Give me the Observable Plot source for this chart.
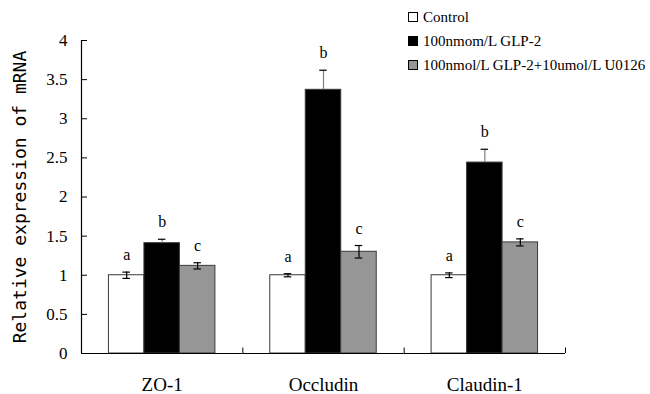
<!DOCTYPE html>
<html><head><meta charset="utf-8">
<script src="https://cdn.jsdelivr.net/npm/d3@7"></script>
<script src="https://cdn.jsdelivr.net/npm/@observablehq/plot@0.6"></script>
<style>
body{margin:0;background:#fff}
#wrap{position:relative;width:650px;height:394px;}
#legend{position:absolute;left:408px;top:5px;font-family:"Liberation Serif";font-size:15px;color:#000}
.item{display:flex;align-items:center;height:24px;white-space:nowrap}
.sw{width:10px;height:10px;border:1px solid #000;margin-right:5px;box-sizing:border-box}
#ytitle{position:absolute;left:19px;top:197px;transform:translate(-50%,-50%) rotate(-90deg);font-family:"DejaVu Sans Mono";font-size:18px;white-space:nowrap;color:#000}
</style></head><body><div id="wrap"></div>
<script>
const categories = ["ZO-1", "Occludin", "Claudin-1"];
const series = ["Control", "100nmom/L GLP-2", "100nmol/L GLP-2+10umol/L U0126"];
const controlValues = [1.00, 1.00, 1.00];
const glp2Values = [1.41, 3.37, 2.44];
const u0126Values = [1.12, 1.30, 1.42];
const controlErr = [0.04, 0.02, 0.03];
const glp2Err = [0.05, 0.25, 0.17];
const u0126Err = [0.04, 0.08, 0.045];
const controlSig = ["a", "a", "a"];
const glp2Sig = ["b", "b", "b"];
const u0126Sig = ["c", "c", "c"];
const yTicks = [0, 0.5, 1, 1.5, 2, 2.5, 3, 3.5, 4];
const yTitle = "Relative expression of mRNA";
const colors = ["#ffffff", "#000000", "#969696"];

const valueSets = [controlValues, glp2Values, u0126Values];
const errSets = [controlErr, glp2Err, u0126Err];
const sigSets = [controlSig, glp2Sig, u0126Sig];
const data = [];
categories.forEach((c, ci) => series.forEach((s, si) => {
  data.push({cat: c, s, v: valueSets[si][ci], e: errSets[si][ci], sig: sigSets[si][ci]});
}));

const W = 650, H = 394, ml = 81, mr = 85, mt = 40, mb = 41;
const pOuter = 0.773;
const facetW = (W - ml - mr) / categories.length;
const step = facetW / (series.length + 2 * pOuter);
const edgeOff = pOuter * step + step / 2;
const capInset = (step - 7.5) / 2;

const plot = Plot.plot({
  width: W, height: H,
  marginLeft: ml, marginRight: mr, marginTop: mt, marginBottom: mb,
  style: {fontFamily: "Liberation Serif", fontSize: "17px", color: "#000", background: "#fff"},
  fx: {domain: categories, padding: 0, round: false, label: null, axis: null},
  x: {domain: series, paddingInner: 0, paddingOuter: pOuter, round: false, axis: null},
  y: {domain: [0, 4], axis: null, label: null},
  color: {domain: series, range: colors},
  marks: [
    Plot.barY(data, {fx: "cat", x: "s", y: "v", fill: "s", stroke: "#3a3a3a", strokeWidth: 1}),
    Plot.ruleX(data, {fx: "cat", x: "s", y1: d => d.s === series[1] ? d.v : d.v - d.e, y2: d => d.v + d.e,
      stroke: d => d.s === series[1] ? "#808080" : "#000", strokeWidth: 1.2}),
    Plot.tickY(data, {fx: "cat", x: "s", y: d => d.v + d.e, insetLeft: capInset, insetRight: capInset, stroke: "#000", strokeWidth: 1.2}),
    Plot.tickY(data.filter(d => d.s !== series[1]), {fx: "cat", x: "s", y: d => d.v - d.e, insetLeft: capInset, insetRight: capInset, stroke: "#000", strokeWidth: 1.2}),
    Plot.text(data, {fx: "cat", x: "s", y: d => d.v + d.e, text: "sig", lineAnchor: "bottom", dy: -12, fontSize: 16, fill: "#000"}),
    Plot.ruleY([0], {stroke: "#000", strokeWidth: 1.2}),
    Plot.ruleX([categories[0]], {fx: d => d, x: () => series[0], y1: 0, y2: 4, dx: -edgeOff, stroke: "#000", strokeWidth: 1.2}),
    Plot.ruleX(categories, {fx: d => d, x: () => series[0], y1: 0, y2: 0.07, dx: -edgeOff, stroke: "#000", strokeWidth: 1}),
    Plot.ruleX([categories[categories.length - 1]], {fx: d => d, x: () => series[series.length - 1], y1: 0, y2: 0.07, dx: edgeOff, stroke: "#000", strokeWidth: 1}),
    Plot.ruleY(yTicks, {fx: () => categories[0], y: d => d, insetRight: facetW - 6, stroke: "#000", strokeWidth: 1}),
    Plot.axisY({ticks: yTicks, tickSize: 0, tickPadding: 14, fontSize: 17, tickFormat: d => String(d), label: null}),
    Plot.axisFx({anchor: "bottom", tickSize: 0, tickPadding: 24, fontSize: 19, label: null})
  ]
});

const wrap = document.getElementById("wrap");
wrap.appendChild(plot);

const legend = document.createElement("div");
legend.id = "legend";
series.forEach((s, i) => {
  const item = document.createElement("div");
  item.className = "item";
  const sw = document.createElement("span");
  sw.className = "sw";
  sw.style.background = colors[i];
  const t = document.createElement("span");
  t.textContent = s;
  item.appendChild(sw); item.appendChild(t);
  legend.appendChild(item);
});
wrap.appendChild(legend);

const yt = document.createElement("div");
yt.id = "ytitle";
yt.textContent = yTitle;
wrap.appendChild(yt);
</script>
</body></html>
